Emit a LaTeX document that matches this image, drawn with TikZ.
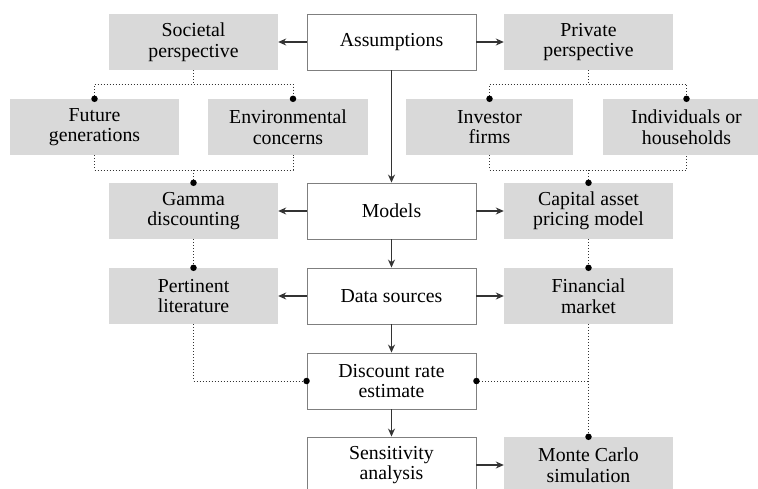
\documentclass[tikz,border=0pt]{standalone}
\usepackage{fontspec}
\setmainfont{Liberation Serif}
\usetikzlibrary{arrows.meta}
\definecolor{boxgray}{HTML}{D9D9D9}
\definecolor{edgegray}{HTML}{7F7F7F}
\definecolor{linegray}{HTML}{333333}
\begin{document}
\begin{tikzpicture}[x=1pt,y=-1pt,
  base/.style={minimum width=169pt,minimum height=56pt,inner sep=0pt,align=center,
    font=\fontsize{19.8}{20.5}\selectfont},
  whitebox/.style={base,draw=edgegray,line width=0.9pt,fill=white},
  graybox/.style={base,fill=boxgray},
  arr/.style={-{Stealth[length=8pt,width=7pt]},line width=1.1pt,draw=linegray},
  dotline/.style={line width=1pt,draw=linegray,dash pattern=on 1pt off 2pt},
  blob/.style={circle,fill=black,inner sep=0pt,minimum size=6.5pt}]
\clip (0,0) rectangle (758,488);
\fill[white] (0,0) rectangle (758,488);
% main column
\node[whitebox] (assum) at (391.5,42) {Assumptions};
\node[whitebox] (mod) at (391.5,211) {Models};
\node[whitebox] (data) at (391.5,296) {Data sources};
\node[whitebox] (disc) at (391.5,381) {Discount rate\\estimate};
\node[whitebox] (sens) at (391.5,465) {Sensitivity\\analysis};
% left
\node[graybox] (soc) at (193.5,42) {Societal\\perspective};
\node[graybox] (fut) at (94.5,127) {Future\\generations};
\node[graybox,minimum width=160pt] (env) at (288,127) {Environmental\\concerns};
\node[graybox] (gam) at (193.5,211) {Gamma\\discounting};
\node[graybox] (pert) at (193.5,296) {Pertinent\\literature};
% right
\node[graybox] (priv) at (588.5,42) {Private\\perspective};
\node[graybox,minimum width=167pt] (inv) at (489.5,127) {Investor\\firms};
\node[graybox,minimum width=167pt] (ind) at (686.5,127) {Individuals or\\households};
\node[graybox] (capm) at (588.5,211) {Capital asset\\pricing model};
\node[graybox] (fin) at (588.5,296) {Financial\\market};
\node[graybox] (mc) at (588.5,465) {Monte Carlo\\simulation};
% arrows
\draw[arr] (assum.west) -- (soc.east);
\draw[arr] (assum.east) -- (priv.west);
\draw[arr] (assum.south) -- (mod.north);
\draw[arr] (mod.west) -- (gam.east);
\draw[arr] (mod.east) -- (capm.west);
\draw[arr] (mod.south) -- (data.north);
\draw[arr] (data.west) -- (pert.east);
\draw[arr] (data.east) -- (fin.west);
\draw[arr] (data.south) -- (disc.north);
\draw[arr] (disc.south) -- (sens.north);
\draw[arr] (sens.east) -- (mc.west);
% dotted connectors
\coordinate (envN) at ([xshift=5pt]env.north);
\coordinate (envS) at ([xshift=5pt]env.south);
\coordinate (j1) at (193.5,84);
\coordinate (j2) at (193.5,170);
\coordinate (j3) at (588.5,84);
\coordinate (j4) at (588.5,170);
\draw[dotline] (soc.south) -- (j1);
\draw[dotline] (fut.north) |- (j1) -| (envN);
\draw[dotline] (fut.south) |- (j2) -| (envS);
\draw[dotline] (j2) -- (gam.north);
\draw[dotline] (gam.south) -- (pert.north);
\draw[dotline] (priv.south) -- (j3);
\draw[dotline] (inv.north) |- (j3) -| (ind.north);
\draw[dotline] (inv.south) |- (j4) -| (ind.south);
\draw[dotline] (j4) -- (capm.north);
\draw[dotline] (capm.south) -- (fin.north);
\draw[dotline] (pert.south) |- (disc.west);
\draw[dotline] (fin.south) -- (mc.north);
\draw[dotline] (disc.east) -- (fin.south |- disc.east);
% dots
\node[blob] at (fut.north) {};
\node[blob] at (envN) {};
\node[blob] at (inv.north) {};
\node[blob] at (ind.north) {};
\node[blob] at (gam.north) {};
\node[blob] at (capm.north) {};
\node[blob] at (pert.north) {};
\node[blob] at (fin.north) {};
\node[blob] at (disc.west) {};
\node[blob] at (disc.east) {};
\node[blob] at (mc.north) {};
\end{tikzpicture}
\end{document}
